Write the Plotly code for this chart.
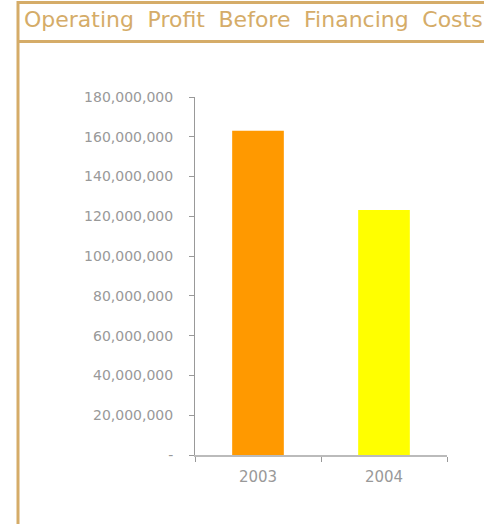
import plotly.graph_objects as go

categories = ["2003", "2004"]
values = [163000000, 123200000]
bar_colors = ["#FF9900", "#FFFF00"]
tick_vals = [0, 20000000, 40000000, 60000000, 80000000, 100000000, 120000000, 140000000, 160000000, 180000000]
tick_text = ["-"] + [f"{v:,}" for v in tick_vals[1:]]
title_words = ["Operating", "Profit", "Before", "Financing", "Costs"]
title_text = " \u2009\u200a".join(title_words)

W, H = 484, 524
L, R, T, B = 195, 447, 97, 455  # plot area pixel box

def px(x):
    return (x - L) / (R - L)

def py(y):
    return (B - y) / (B - T)

gold = "#D5AC68"

fig = go.Figure(go.Bar(x=categories, y=values, marker_color=bar_colors,
                       marker_line_width=0, width=0.41))

fig.update_layout(
    width=W, height=H,
    margin=dict(l=L, r=W - R, t=T, b=H - B, pad=0),
    paper_bgcolor="white", plot_bgcolor="white",
    showlegend=False,
    xaxis=dict(range=[-0.5, 1.5], showline=True, linecolor="#BBBBBB", linewidth=2,
               ticks="outside", tickson="boundaries", ticklen=5, tickcolor="#999999",
               ticklabelstandoff=7,
               tickfont=dict(family="DejaVu Sans", size=15, color="#999999"),
               showgrid=False, zeroline=False),
    yaxis=dict(range=[0, 180000000], showline=True, linecolor="#999999", linewidth=1,
               ticks="outside", ticklen=5, tickcolor="#999999",
               ticklabelstandoff=13,
               tickvals=tick_vals, ticktext=tick_text,
               tickfont=dict(family="DejaVu Sans", size=14, color="#999999"),
               showgrid=False, zeroline=False),
    shapes=[
        dict(type="line", xref="paper", yref="paper", x0=px(17), x1=px(490), y0=py(2.5), y1=py(2.5),
             line=dict(color=gold, width=3)),
        dict(type="line", xref="paper", yref="paper", x0=px(17), x1=px(490), y0=py(41.5), y1=py(41.5),
             line=dict(color=gold, width=3)),
        dict(type="line", xref="paper", yref="paper", x0=px(18), x1=px(18), y0=py(1), y1=py(530),
             line=dict(color=gold, width=3)),
    ],
    annotations=[
        dict(text=title_text, xref="paper", yref="paper", x=px(22), y=py(19.5),
             xanchor="left", yanchor="middle", showarrow=False,
             font=dict(family="DejaVu Sans", size=22, color=gold)),
    ],
)

fig.write_html("out.html")
